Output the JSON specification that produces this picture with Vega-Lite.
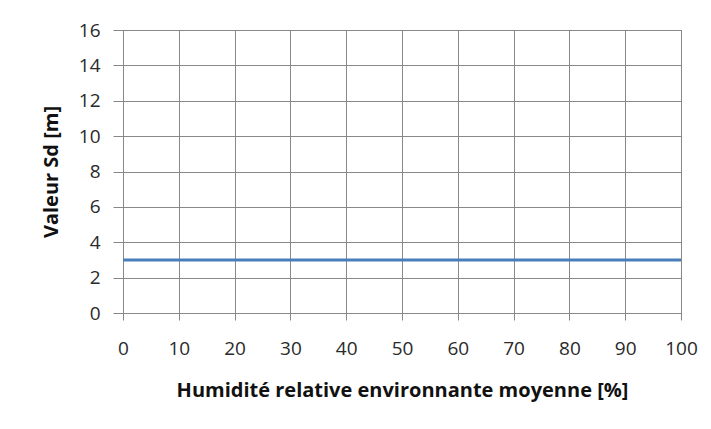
{
  "$schema": "https://vega.github.io/schema/vega-lite/v6.json",
  "width": 558,
  "height": 283,
  "autosize": {"type": "none"},
  "padding": {"left": 123, "top": 30, "right": 30, "bottom": 116},
  "background": "white",
  "data": {"values": [
    {"humidite": 0, "sd": 3},
    {"humidite": 100, "sd": 3}
  ]},
  "mark": {"type": "line", "color": "#4a7ebb", "strokeWidth": 3},
  "encoding": {
    "x": {
      "field": "humidite", "type": "quantitative",
      "scale": {"domain": [0, 100], "nice": false},
      "axis": {
        "title": "Humidité relative environnante moyenne  [%]",
        "values": [0,10,20,30,40,50,60,70,80,90,100],
        "labelFlush": false, "labelOverlap": false,
        "tickSize": 7, "labelPadding": 19, "titlePadding": 22
      }
    },
    "y": {
      "field": "sd", "type": "quantitative",
      "scale": {"domain": [0, 16], "nice": false},
      "axis": {
        "title": "Valeur Sd [m]",
        "values": [0,2,4,6,8,10,12,14,16],
        "labelFlush": false, "labelOverlap": false,
        "tickSize": 10, "labelPadding": 13, "titlePadding": 17
      }
    }
  },
  "config": {
    "view": {"stroke": "#888888", "strokeWidth": 1},
    "axis": {
      "grid": true,
      "gridColor": "#888888",
      "gridOpacity": 1,
      "domain": false,
      "tickColor": "#888888",
      "labelFont": "Open Sans",
      "labelFontSize": 19,
      "labelColor": "#2a2a2a",
      "titleFont": "Open Sans",
      "titleFontSize": 20,
      "titleFontWeight": "bold",
      "titleColor": "#111111"
    }
  }
}
